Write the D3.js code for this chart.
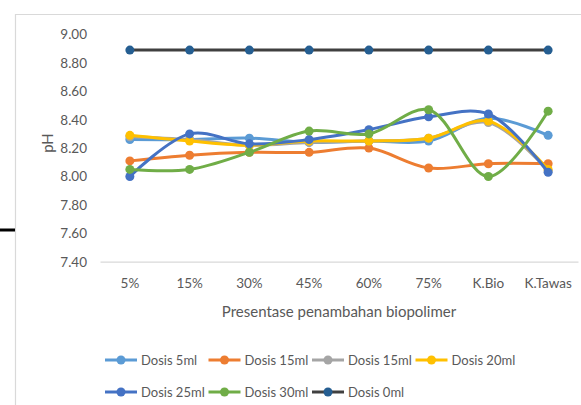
<!DOCTYPE html>
<html>
<head>
<meta charset="utf-8">
<script src="https://cdn.jsdelivr.net/npm/d3@7"></script>
<style>
  body { margin: 0; background: #fff; }
  svg { display: block; font-family: Lato, "Open Sans", sans-serif; }
</style>
</head>
<body>
<div class="container"></div>
<script>
const categories = ["5%", "15%", "30%", "45%", "60%", "75%", "K.Bio", "K.Tawas"];
const yTicks = [7.4, 7.6, 7.8, 8.0, 8.2, 8.4, 8.6, 8.8, 9.0];

const seriesNames = ["Dosis 5ml", "Dosis 15ml", "Dosis 15ml", "Dosis 20ml", "Dosis 25ml", "Dosis 30ml", "Dosis 0ml"];
const dosis5 = [8.26, 8.26, 8.27, 8.24, 8.25, 8.25, 8.41, 8.29];
const dosis15a = [8.11, 8.15, 8.17, 8.17, 8.20, 8.06, 8.09, 8.09];
const dosis15b = [8.28, 8.26, 8.22, 8.24, 8.25, 8.27, 8.38, 8.04];
const dosis20 = [8.29, 8.25, 8.22, 8.25, 8.25, 8.27, 8.39, 8.05];
const dosis25 = [8.00, 8.30, 8.23, 8.26, 8.33, 8.42, 8.44, 8.03];
const dosis30 = [8.05, 8.05, 8.17, 8.32, 8.30, 8.47, 8.00, 8.46];
const dosis0 = [8.89, 8.89, 8.89, 8.89, 8.89, 8.89, 8.89, 8.89];

const lineColors = ["#5B9BD5", "#ED7D31", "#A5A5A5", "#FFC000", "#4472C4", "#70AD47", "#404040"];
const markerColors = ["#5B9BD5", "#ED7D31", "#A5A5A5", "#FFC000", "#4472C4", "#70AD47", "#255E91"];

const series = [dosis5, dosis15a, dosis15b, dosis20, dosis25, dosis30, dosis0].map((values, i) => ({
  name: seriesNames[i],
  line: lineColors[i],
  marker: markerColors[i],
  values: values
}));

const width = 581, height = 405;
const plot = { left: 100, right: 578, top: 34.5, bottom: 261.7 };

const svg = d3.select(".container")
  .append("svg")
  .attr("width", width)
  .attr("height", height);

// marco del recorte
svg.append("path")
  .attr("d", `M15.5,${height} V14.5 H${width}`)
  .attr("fill", "none")
  .attr("stroke", "#d9d9d9")
  .attr("stroke-width", 1.2);

svg.append("line")
  .attr("x1", 0).attr("x2", 15)
  .attr("y1", 230).attr("y2", 230)
  .attr("stroke", "#000")
  .attr("stroke-width", 3);

const xScale = d3.scaleBand()
  .domain(categories)
  .range([plot.left, plot.right]);

const yScale = d3.scaleLinear()
  .domain([7.4, 9.0])
  .range([plot.bottom, plot.top]);

// eje y (solo etiquetas)
const yAxis = d3.axisLeft(yScale)
  .tickValues(yTicks)
  .tickFormat(d3.format(".2f"))
  .tickSize(0)
  .tickPadding(0);

const yAxisGroup = svg.append("g")
  .attr("transform", "translate(87, 0)")
  .call(yAxis);
yAxisGroup.select(".domain").remove();
yAxisGroup.selectAll("text")
  .attr("fill", "#595959")
  .style("font-size", "13.5px")
  .style("font-family", "Lato, sans-serif");

// eje x
const xAxis = d3.axisBottom(xScale).tickSize(0).tickPadding(17);
const xAxisGroup = svg.append("g")
  .attr("transform", `translate(0, ${plot.bottom})`)
  .call(xAxis);
xAxisGroup.select(".domain")
  .attr("stroke", "#d9d9d9")
  .attr("stroke-width", 1.2);
xAxisGroup.selectAll("text")
  .attr("fill", "#595959")
  .style("font-size", "13.5px")
  .style("font-family", "Lato, sans-serif");

svg.append("text")
  .attr("x", (plot.left + plot.right) / 2)
  .attr("y", 317)
  .attr("text-anchor", "middle")
  .attr("fill", "#595959")
  .style("font-size", "15px")
  .text("Presentase penambahan biopolimer");

svg.append("text")
  .attr("transform", "translate(53, 143) rotate(-90)")
  .attr("text-anchor", "middle")
  .attr("fill", "#595959")
  .style("font-size", "15px")
  .text("pH");

// lineas suavizadas
const line = d3.line()
  .x((d, i) => xScale(categories[i]) + xScale.bandwidth() / 2)
  .y(d => yScale(d))
  .curve(d3.curveCatmullRom.alpha(0.5));

const groups = svg.selectAll(".series")
  .data(series)
  .enter().append("g")
  .attr("class", "series");

groups.append("path")
  .attr("d", d => line(d.values))
  .attr("fill", "none")
  .attr("stroke", d => d.line)
  .attr("stroke-width", 3)
  .attr("stroke-linecap", "round");

groups.selectAll("circle")
  .data(d => d.values.map(v => ({ v: v, color: d.marker })))
  .enter().append("circle")
  .attr("cx", (d, i) => xScale(categories[i]) + xScale.bandwidth() / 2)
  .attr("cy", d => yScale(d.v))
  .attr("r", 4.5)
  .attr("fill", d => d.color);

// leyenda
const legend = svg.selectAll(".legend")
  .data(series)
  .enter().append("g")
  .attr("class", "legend")
  .attr("transform", (d, i) => `translate(${105 + (i % 4) * 103.5}, ${i < 4 ? 360 : 392})`);

legend.append("line")
  .attr("x1", 0).attr("x2", 32)
  .attr("stroke", d => d.line)
  .attr("stroke-width", 3);

legend.append("circle")
  .attr("cx", 16)
  .attr("r", 4.5)
  .attr("fill", d => d.marker);

legend.append("text")
  .attr("x", 36)
  .attr("dy", "0.35em")
  .attr("fill", "#595959")
  .style("font-size", "13px")
  .text(d => d.name);
</script>
</body>
</html>
